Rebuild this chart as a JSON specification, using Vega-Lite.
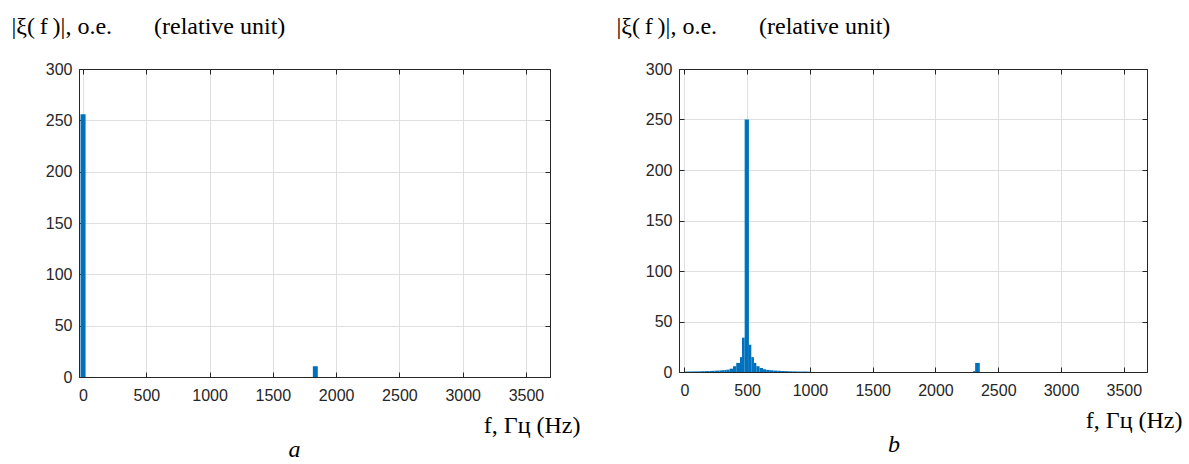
{
  "$schema": "https://vega.github.io/schema/vega-lite/v6.json",
  "padding": {"left": 10, "top": 13, "right": 0, "bottom": 0},
  "background": "white",
  "bounds": "flush",
  "spacing": 129,
  "config": {
    "view": {"stroke": "#262626", "strokeWidth": 1},
    "axis": {
      "labelFont": "Liberation Sans", "labelFontSize": 16, "labelColor": "#262626",
      "domainColor": "#262626", "tickColor": "#262626", "tickWidth": 1, "gridColor": "#dfdfdf", "gridWidth": 1,
      "tickSize": -5, "labelFlush": false, "labelOverlap": false, "format": "d",
      "titleFont": "Liberation Serif", "titleFontSize": 24, "titleFontWeight": "normal", "titleColor": "#000000"
    },
    "title": {"font": "Liberation Serif", "fontSize": 24, "fontStyle": "italic", "fontWeight": "normal", "color": "#000000"}
  },
  "datasets": {
    "a": [
      {"lo": -20, "hi": 20, "v": 256},
      {"lo": 1816, "hi": 1855, "v": 10.5}
    ],
    "b": [
      {"lo": 0, "hi": 20, "v": 0.4}, {"lo": 20, "hi": 40, "v": 0.45}, {"lo": 40, "hi": 60, "v": 0.5},
      {"lo": 60, "hi": 80, "v": 0.55}, {"lo": 80, "hi": 100, "v": 0.6}, {"lo": 100, "hi": 120, "v": 0.65},
      {"lo": 120, "hi": 140, "v": 0.7}, {"lo": 140, "hi": 160, "v": 0.8}, {"lo": 160, "hi": 180, "v": 0.85},
      {"lo": 180, "hi": 200, "v": 0.95}, {"lo": 200, "hi": 220, "v": 1.05}, {"lo": 220, "hi": 240, "v": 1.15},
      {"lo": 240, "hi": 260, "v": 1.3}, {"lo": 260, "hi": 280, "v": 1.45}, {"lo": 280, "hi": 300, "v": 1.6},
      {"lo": 300, "hi": 320, "v": 1.8}, {"lo": 320, "hi": 334, "v": 2.0}, {"lo": 334, "hi": 360, "v": 2.3},
      {"lo": 360, "hi": 387, "v": 3.3}, {"lo": 387, "hi": 413, "v": 5.7}, {"lo": 413, "hi": 443, "v": 9},
      {"lo": 443, "hi": 459, "v": 14.7}, {"lo": 459, "hi": 480, "v": 34}, {"lo": 480, "hi": 514, "v": 250},
      {"lo": 514, "hi": 533, "v": 27}, {"lo": 533, "hi": 554, "v": 14.7}, {"lo": 554, "hi": 573, "v": 9},
      {"lo": 573, "hi": 599, "v": 5.7}, {"lo": 599, "hi": 626, "v": 4}, {"lo": 626, "hi": 652, "v": 2.7},
      {"lo": 652, "hi": 680, "v": 2.1}, {"lo": 680, "hi": 710, "v": 1.7}, {"lo": 710, "hi": 740, "v": 1.4},
      {"lo": 740, "hi": 770, "v": 1.2}, {"lo": 770, "hi": 800, "v": 1.0}, {"lo": 800, "hi": 830, "v": 0.85},
      {"lo": 830, "hi": 860, "v": 0.7}, {"lo": 860, "hi": 890, "v": 0.6}, {"lo": 890, "hi": 920, "v": 0.5},
      {"lo": 920, "hi": 950, "v": 0.45}, {"lo": 950, "hi": 980, "v": 0.4}, {"lo": 980, "hi": 1010, "v": 0.35},
      {"lo": 2300, "hi": 2316, "v": 0.8}, {"lo": 2316, "hi": 2353, "v": 9}
    ]
  },
  "hconcat": [
    {
      "width": 471, "height": 308,
      "title": {"text": "a", "orient": "bottom", "anchor": "middle", "dx": -20, "offset": 1},
      "data": {"name": "a"},
      "layer": [
        {
          "mark": {"type": "bar", "color": "#0072BD"},
          "encoding": {
            "x": {"field": "lo", "type": "quantitative",
              "scale": {"domain": [-32, 3690], "nice": false, "zero": false},
              "axis": {"values": [0, 500, 1000, 1500, 2000, 2500, 3000, 3500], "grid": true, "format": "d",
                "title": "f, Гц (Hz)", "titleFont": "Liberation Serif", "titleFontSize": 24, "titleFontWeight": "normal",
                "titleX": 501, "titleY": 55, "titleAlign": "right", "titleBaseline": "alphabetic", "labelPadding": 15}},
            "x2": {"field": "hi"},
            "y": {"field": "v", "type": "quantitative",
              "scale": {"domain": [0, 300], "nice": false},
              "axis": {"values": [0, 50, 100, 150, 200, 250, 300], "grid": true, "labelPadding": 12, "format": "d",
                "title": "|ξ(\u2009f\u2009)|, o.e.\u2003\u2002 (relative unit)", "titleFont": "Liberation Serif", "titleFontSize": 24, "titleFontWeight": "normal",
                "titleAngle": 0, "titleAlign": "left", "titleBaseline": "alphabetic", "titleX": -68, "titleY": -36, "titleLimit": 400}},
            "y2": {"datum": 0}
          }
        },
        {
          "mark": {"type": "bar", "opacity": 0},
          "encoding": {
            "x": {"field": "lo", "type": "quantitative",
              "scale": {"domain": [-32, 3690], "nice": false, "zero": false},
              "axis": {"orient": "top", "values": [0, 500, 1000, 1500, 2000, 2500, 3000, 3500], "labels": false, "grid": false, "title": null}},
            "x2": {"field": "hi"},
            "y": {"field": "v", "type": "quantitative",
              "scale": {"domain": [0, 300], "nice": false},
              "axis": {"orient": "right", "values": [0, 50, 100, 150, 200, 250, 300], "labels": false, "grid": false, "title": null}},
            "y2": {"datum": 0}
          }
        }
      ],
      "resolve": {"axis": {"x": "independent", "y": "independent"}}
    },
    {
      "width": 468, "height": 303,
      "title": {"text": "b", "orient": "bottom", "anchor": "middle", "dx": -19, "offset": 1},
      "data": {"name": "b"},
      "layer": [
        {
          "mark": {"type": "bar", "color": "#0072BD"},
          "encoding": {
            "x": {"field": "lo", "type": "quantitative",
              "scale": {"domain": [-43, 3685], "nice": false, "zero": false},
              "axis": {"values": [0, 500, 1000, 1500, 2000, 2500, 3000, 3500], "grid": true, "format": "d",
                "title": "f, Гц (Hz)", "titleFont": "Liberation Serif", "titleFontSize": 24, "titleFontWeight": "normal",
                "titleX": 503, "titleY": 55, "titleAlign": "right", "titleBaseline": "alphabetic", "labelPadding": 15}},
            "x2": {"field": "hi"},
            "y": {"field": "v", "type": "quantitative",
              "scale": {"domain": [0, 300], "nice": false},
              "axis": {"values": [0, 50, 100, 150, 200, 250, 300], "grid": true, "labelPadding": 12, "format": "d",
                "title": "|ξ(\u2009f\u2009)|, o.e.\u2003\u2002 (relative unit)", "titleFont": "Liberation Serif", "titleFontSize": 24, "titleFontWeight": "normal",
                "titleAngle": 0, "titleAlign": "left", "titleBaseline": "alphabetic", "titleX": -63, "titleY": -36, "titleLimit": 400}},
            "y2": {"datum": 0}
          }
        },
        {
          "mark": {"type": "bar", "opacity": 0},
          "encoding": {
            "x": {"field": "lo", "type": "quantitative",
              "scale": {"domain": [-43, 3685], "nice": false, "zero": false},
              "axis": {"orient": "top", "values": [0, 500, 1000, 1500, 2000, 2500, 3000, 3500], "labels": false, "grid": false, "title": null}},
            "x2": {"field": "hi"},
            "y": {"field": "v", "type": "quantitative",
              "scale": {"domain": [0, 300], "nice": false},
              "axis": {"orient": "right", "values": [0, 50, 100, 150, 200, 250, 300], "labels": false, "grid": false, "title": null}},
            "y2": {"datum": 0}
          }
        }
      ],
      "resolve": {"axis": {"x": "independent", "y": "independent"}}
    }
  ]
}
